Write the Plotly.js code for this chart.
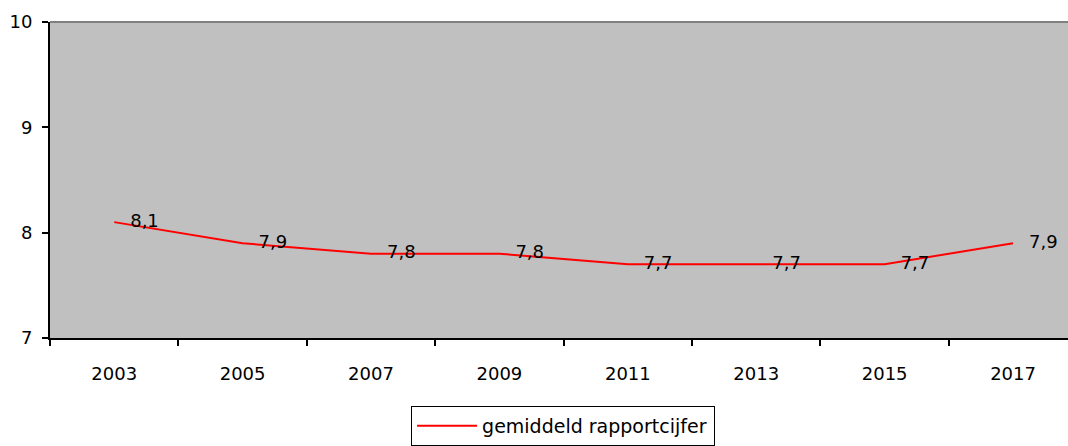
<!DOCTYPE html>
<html>
<head>
<meta charset="utf-8">
<script src="https://cdn.plot.ly/plotly-3.0.1.min.js"></script>
<style>html,body{margin:0;padding:0;background:#fff;}#chart{width:1068px;height:446px;}</style>
</head>
<body>
<div id="chart"></div>
<script>
const years = ["2003","2005","2007","2009","2011","2013","2015","2017"];
const scores = [8.1, 7.9, 7.8, 7.8, 7.7, 7.7, 7.7, 7.9];
const seriesName = "gemiddeld rapportcijfer";
const yTicks = [7, 8, 9, 10];

const FONT = "DejaVu Sans, Verdana, sans-serif";

const lineTrace = {
  x: years,
  y: scores,
  type: "scatter",
  mode: "lines",
  name: seriesName,
  line: {color: "#ff0000", width: 2},
  hoverinfo: "skip"
};

const labelTrace = {
  x: years,
  y: scores,
  type: "scatter",
  mode: "markers+text",
  text: scores.map(v => v.toFixed(1).replace(".", ",")),
  textposition: "middle right",
  textfont: {family: FONT, size: 18, color: "#000"},
  marker: {size: 24, color: "rgba(0,0,0,0)", line: {width: 0}},
  showlegend: false,
  hoverinfo: "skip",
  cliponaxis: false
};

const layout = {
  width: 1068,
  height: 446,
  margin: {l: 50, r: 0, t: 22, b: 107},
  paper_bgcolor: "#ffffff",
  plot_bgcolor: "#c0c0c0",
  font: {family: FONT, size: 18, color: "#000"},
  showlegend: true,
  legend: {
    orientation: "h",
    x: 0.504, xanchor: "center",
    y: -0.217, yanchor: "top",
    bordercolor: "#000", borderwidth: 1,
    bgcolor: "#fff",
    itemwidth: 60,
    entrywidth: 227,
    font: {family: FONT, size: 19, color: "#000"}
  },
  xaxis: {
    type: "category",
    range: [-0.5, 7.428],
    showgrid: false,
    zeroline: false,
    showline: true, linecolor: "#000", linewidth: 2,
    ticks: "outside", tickson: "boundaries", ticklen: 6, tickwidth: 2, tickcolor: "#000",
    ticklabelstandoff: 18,
    tickfont: {family: FONT, size: 18, color: "#000"},
    fixedrange: true
  },
  yaxis: {
    range: [7, 10],
    tickvals: yTicks,
    ticktext: yTicks.map(String),
    showgrid: false,
    zeroline: false,
    showline: true, linecolor: "#000", linewidth: 2,
    ticks: "outside", ticklen: 6, tickwidth: 2, tickcolor: "#000",
    ticklabelstandoff: 6,
    tickfont: {family: FONT, size: 18, color: "#000"},
    fixedrange: true
  },
  shapes: [{
    type: "line", xref: "paper", yref: "paper",
    x0: 0, x1: 1, y0: 1, y1: 1,
    line: {color: "#808080", width: 2}
  }]
};

Plotly.newPlot("chart", [lineTrace, labelTrace], layout, {displayModeBar: false, staticPlot: true});
</script>
</body>
</html>
